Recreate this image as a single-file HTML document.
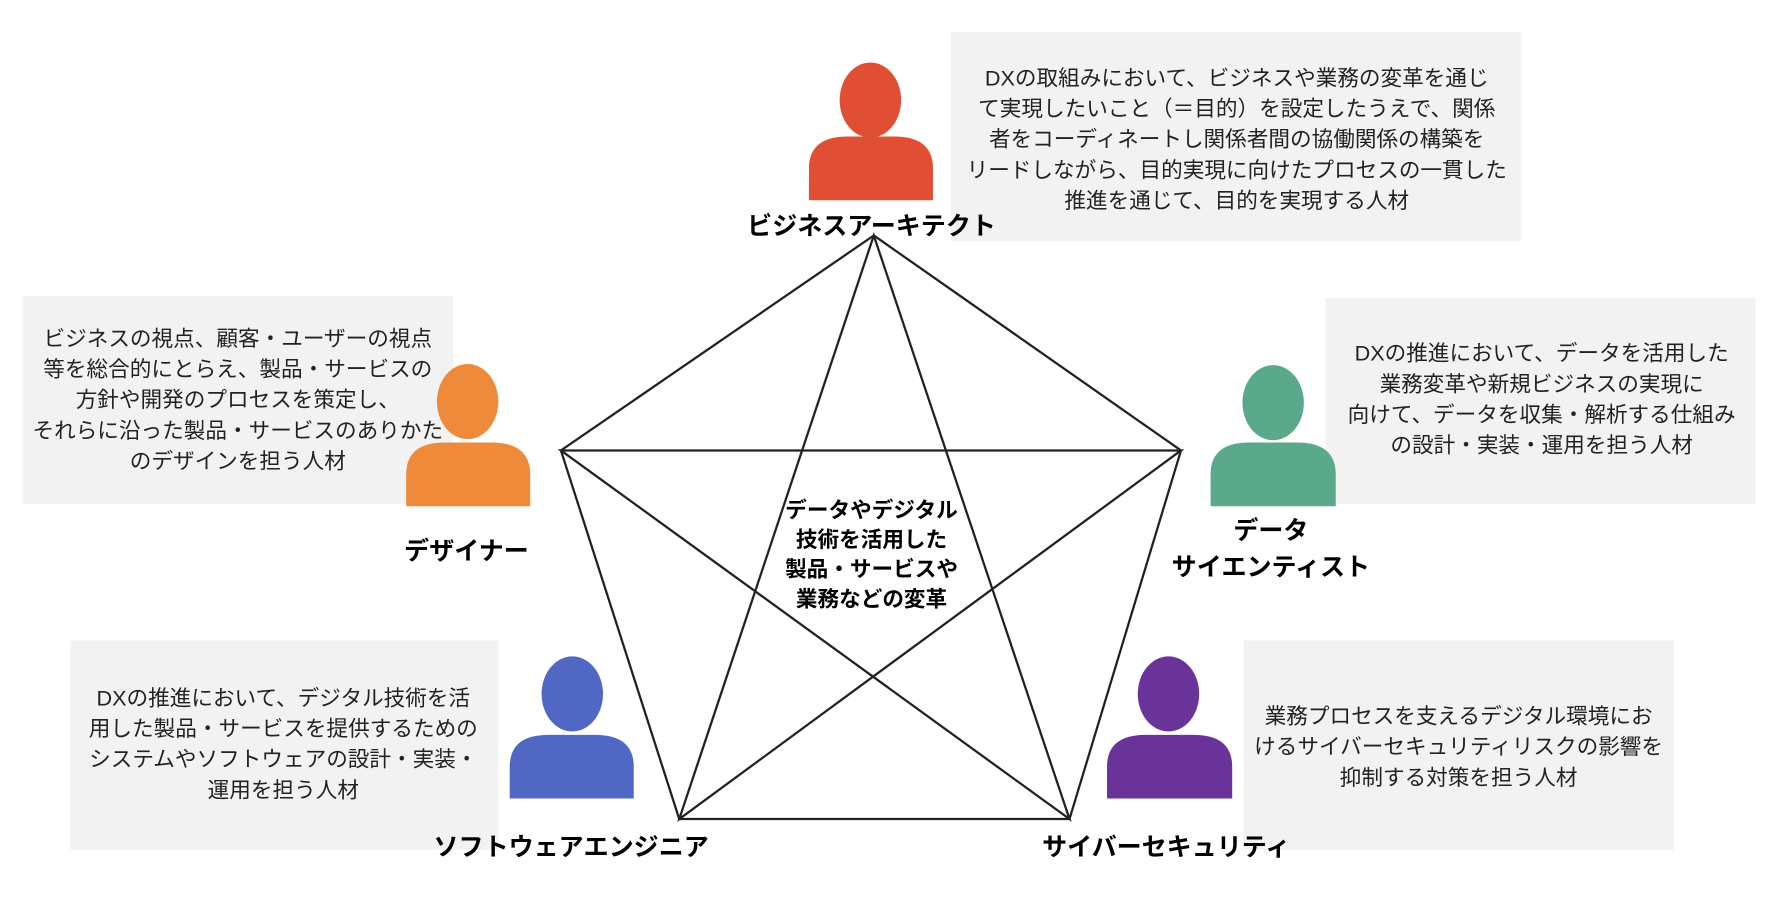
<!DOCTYPE html>
<html><head><meta charset="utf-8"><style>
html,body{margin:0;padding:0;background:#fff;}
svg{display:block;}
text{font-family:"Liberation Sans","Noto Sans CJK JP",sans-serif;}
.d{font-size:19px;fill:#222;text-anchor:middle;}
.l{font-size:22px;font-weight:bold;fill:#000;text-anchor:middle;}
.c{font-size:19px;font-weight:bold;fill:#000;text-anchor:middle;}
</style></head><body>
<svg width="1784" height="918" viewBox="0 0 1568 807" preserveAspectRatio="none">
<rect width="1568" height="807" fill="#fff"/>
<g fill="#f2f2f2">
<rect x="836" y="28" width="501" height="184"/>
<rect x="20" y="260" width="378" height="183"/>
<rect x="1165" y="262" width="378" height="181"/>
<rect x="62" y="563" width="376" height="184"/>
<rect x="1093" y="563" width="378" height="184"/>
</g>
<g stroke="#222" stroke-width="2" fill="none">
<polygon points="768,207 1038,396 940,720 597,720 493,396"/>
<polygon points="768,207 940,720 493,396 1038,396 597,720"/>
</g>
<g>
<ellipse cx="765" cy="88" rx="27" ry="33" fill="#e04e33"/>
<path d="M711,176 V148 Q711,120 745,120 H786 Q820,120 820,148 V176Z" fill="#e04e33"/>
<ellipse cx="411" cy="353" rx="27" ry="33" fill="#ef8a3a"/>
<path d="M357,445 V417 Q357,389 391,389 H432 Q466,389 466,417 V445Z" fill="#ef8a3a"/>
<ellipse cx="1119" cy="354" rx="27" ry="33" fill="#5aa98a"/>
<path d="M1064,445 V417 Q1064,389 1098,389 H1140 Q1174,389 1174,417 V445Z" fill="#5aa98a"/>
<ellipse cx="503" cy="610" rx="27" ry="33" fill="#5068c4"/>
<path d="M448,702 V674 Q448,646 482,646 H523 Q557,646 557,674 V702Z" fill="#5068c4"/>
<ellipse cx="1027" cy="610" rx="27" ry="33" fill="#6a3399"/>
<path d="M973,702 V674 Q973,646 1007,646 H1049 Q1083,646 1083,674 V702Z" fill="#6a3399"/>
</g>
<g>
<text class="d" x="1087" y="75">DXの取組みにおいて、ビジネスや業務の変革を通じ</text>
<text class="d" x="1087" y="102">て実現したいこと（＝目的）を設定したうえで、関係</text>
<text class="d" x="1087" y="129">者をコーディネートし関係者間の協働関係の構築を</text>
<text class="d" x="1087" y="156">リードしながら、目的実現に向けたプロセスの一貫した</text>
<text class="d" x="1087" y="183">推進を通じて、目的を実現する人材</text>
<text class="d" x="209" y="304">ビジネスの視点、顧客・ユーザーの視点</text>
<text class="d" x="209" y="331">等を総合的にとらえ、製品・サービスの</text>
<text class="d" x="209" y="358">方針や開発のプロセスを策定し、</text>
<text class="d" x="209" y="385">それらに沿った製品・サービスのありかた</text>
<text class="d" x="209" y="412">のデザインを担う人材</text>
<text class="d" x="1355" y="317">DXの推進において、データを活用した</text>
<text class="d" x="1355" y="344">業務変革や新規ビジネスの実現に</text>
<text class="d" x="1355" y="371">向けて、データを収集・解析する仕組み</text>
<text class="d" x="1355" y="398">の設計・実装・運用を担う人材</text>
<text class="d" x="249" y="620">DXの推進において、デジタル技術を活</text>
<text class="d" x="249" y="647">用した製品・サービスを提供するための</text>
<text class="d" x="249" y="674">システムやソフトウェアの設計・実装・</text>
<text class="d" x="249" y="701">運用を担う人材</text>
<text class="d" x="1282" y="636">業務プロセスを支えるデジタル環境にお</text>
<text class="d" x="1282" y="663">けるサイバーセキュリティリスクの影響を</text>
<text class="d" x="1282" y="690">抑制する対策を担う人材</text>
</g>
<text class="l" x="766" y="206">ビジネスアーキテクト</text>
<text class="l" x="410" y="492">デザイナー</text>
<text class="l" x="1117" y="474">データ</text>
<text class="l" x="1117" y="506">サイエンティスト</text>
<text class="l" x="502" y="752">ソフトウェアエンジニア</text>
<text class="l" x="1025" y="752">サイバーセキュリティ</text>
<text class="c" x="766" y="455">データやデジタル</text>
<text class="c" x="766" y="481">技術を活用した</text>
<text class="c" x="766" y="507">製品・サービスや</text>
<text class="c" x="766" y="533">業務などの変革</text>
</svg>
</body></html>
